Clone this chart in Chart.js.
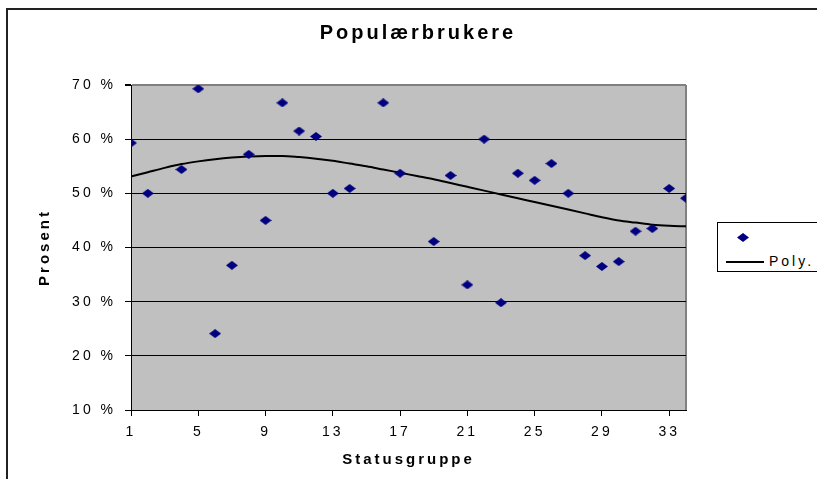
<!DOCTYPE html>
<html>
<head>
<meta charset="utf-8">
<script src="https://cdn.jsdelivr.net/npm/chart.js@4/dist/chart.umd.min.js"></script>
<style>
  html, body { margin: 0; padding: 0; background: #fff; overflow: hidden; }
  #wrap { position: relative; width: 817px; height: 479px; }
  #frame { position: absolute; left: 6px; top: 8px; width: 900px; height: 600px;
           border: 2px solid #222; pointer-events: none; }
  #legend { position: absolute; left: 717px; top: 222px; width: 120px; height: 48px;
            border: 1px solid #000; background: #fff;
            font-family: 'Liberation Sans', Arial, sans-serif; font-size: 14px; letter-spacing: 3px; }
  #legend canvas { position: absolute; left: 19px; top: 10px; }
  #legend .line { position: absolute; left: 8px; top: 38px; width: 38px; height: 2px; background: #000; }
  #legend .txt { position: absolute; left: 51px; top: 30px; }
</style>
</head>
<body>
<div id="wrap">
  <canvas id="chart" width="817" height="479"></canvas>
  <div id="frame"></div>
  <div id="legend">
    <canvas id="legendMark" width="12" height="9"></canvas>
    <div class="line"></div>
    <div class="txt">Poly.</div>
  </div>
</div>
<script>
// Populærbrukere: share (%) per status group, with the Excel polynomial trend.
const groups = [1, 2, 4, 5, 6, 7, 8, 9, 10, 11, 12, 13, 14, 16, 17, 19, 20,
  21, 22, 23, 24, 25, 26, 27, 28, 29, 30, 31, 32, 33, 34];
const shares = [59.3, 50.0, 54.4, 69.3, 24.1, 36.7, 57.2, 45.0, 66.7, 61.5, 60.5,
  50.0, 50.9, 66.7, 53.7, 41.1, 53.3, 33.1, 60.0, 29.8, 53.7, 52.4, 55.5, 50.0,
  38.5, 36.5, 37.4, 43.0, 43.5, 50.9, 49.1];

// trend line, one value per group 1..34
const trendX = [1, 2, 3, 4, 5, 6, 7, 8, 9, 10, 11, 12, 13, 14, 15, 16, 17,
  18, 19, 20, 21, 22, 23, 24, 25, 26, 27, 28, 29, 30, 31, 32, 33, 34];
const trendY = [53.1, 53.9, 54.7, 55.4, 55.9, 56.3, 56.6, 56.8, 56.9, 56.9, 56.7,
  56.4, 56.0, 55.5, 55.0, 54.4, 53.8, 53.2, 52.6, 51.9, 51.2, 50.5, 49.8, 49.1,
  48.4, 47.7, 47.0, 46.3, 45.6, 45.0, 44.6, 44.2, 44.0, 43.9];

const xTicks = [1, 5, 9, 13, 17, 21, 25, 29, 33];
const yMin = 10, yMax = 70, yStep = 10;

const FONT = "'Liberation Sans', Arial, sans-serif";
const NAVY = '#000080';

// squat Excel-style diamond used as the marker
function diamond(cv) {
  const c = cv.getContext('2d');
  const w = cv.width, h = cv.height;
  c.fillStyle = NAVY;
  c.beginPath();
  c.moveTo(w / 2, 0);
  c.lineTo(w, h / 2);
  c.lineTo(w / 2, h);
  c.lineTo(0, h / 2);
  c.closePath();
  c.fill();
  return cv;
}
const marker = diamond(Object.assign(document.createElement('canvas'), { width: 12, height: 9 }));
diamond(document.getElementById('legendMark'));

const plotBg = {
  id: 'plotBg',
  beforeDraw(chart) {
    const { ctx, chartArea: a } = chart;
    ctx.letterSpacing = '3px'; // the original is stretched sideways
    ctx.save();
    ctx.fillStyle = '#c0c0c0';
    ctx.fillRect(a.left, a.top, a.right - a.left, a.bottom - a.top);
    ctx.strokeStyle = '#808080';
    ctx.lineWidth = 2;
    ctx.beginPath();
    ctx.moveTo(a.right, a.top);
    ctx.lineTo(a.right, a.bottom);
    ctx.stroke();
    ctx.restore();
  },
};

const tickFont = { family: FONT, size: 14 };
const titleFont = { family: FONT, size: 15, weight: 'bold' };

new Chart(document.getElementById('chart'), {
  data: {
    datasets: [
      {
        type: 'scatter',
        label: 'Populærbrukere',
        data: groups.map((g, i) => ({ x: g, y: shares[i] })),
        pointStyle: marker,
        order: 1,
      },
      {
        type: 'line',
        label: 'Poly.',
        data: trendX.map((g, i) => ({ x: g, y: trendY[i] })),
        borderColor: '#000',
        borderWidth: 2,
        pointRadius: 0,
        cubicInterpolationMode: 'monotone',
        fill: false,
        order: 2,
      },
    ],
  },
  options: {
    responsive: false,
    animation: false,
    layout: { padding: { left: 19, top: 0, right: 0, bottom: 0 } },
    plugins: {
      legend: { display: false },
      tooltip: { enabled: false },
      title: {
        display: true,
        text: 'Populærbrukere',
        color: '#000',
        font: { family: FONT, size: 20, weight: 'bold' },
        padding: { top: 21, bottom: 40 },
      },
    },
    scales: {
      x: {
        type: 'linear',
        min: 1,
        max: 34,
        afterBuildTicks: s => { s.ticks = xTicks.map(v => ({ value: v })); },
        afterFit: s => { s.height = 69; },
        grid: { drawOnChartArea: false, tickLength: 6, tickColor: '#000' },
        border: { color: '#000', width: 1 },
        ticks: { color: '#000', font: tickFont, padding: 8, maxRotation: 0, autoSkip: false },
        title: { display: true, text: 'Statusgruppe', color: '#000', font: titleFont, padding: { top: 0, bottom: 10 } },
      },
      y: {
        type: 'linear',
        min: yMin,
        max: yMax,
        afterFit: s => { s.width = 112; },
        grid: {
          color: c => (c.tick && c.tick.value === yMax ? '#808080' : '#000'),
          lineWidth: c => (c.tick && c.tick.value === yMax ? 2 : 1),
          tickLength: 6,
          tickColor: '#000',
        },
        border: { color: '#000', width: 1 },
        ticks: { color: '#000', font: tickFont, padding: 9, stepSize: yStep, callback: v => v + ' %' },
        title: { display: true, text: 'Prosent', color: '#000', font: titleFont, padding: { top: 17, bottom: 0 } },
      },
      yRight: {
        type: 'linear',
        position: 'right',
        afterFit: s => { s.width = 131; },
        grid: { display: false },
        border: { display: false },
        ticks: { display: false },
      },
    },
  },
  plugins: [plotBg],
});
</script>
</body>
</html>
